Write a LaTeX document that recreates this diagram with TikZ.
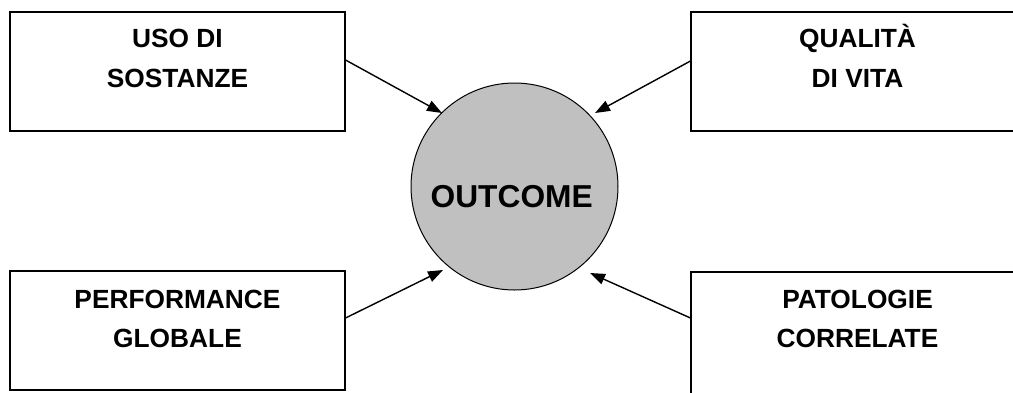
\documentclass[tikz,border=0pt]{standalone}
\usepackage{fontspec}
\setmainfont{Liberation Sans}
\usetikzlibrary{arrows.meta}
\begin{document}
\begin{tikzpicture}[x=1pt,y=-1pt,
  box/.style={draw=black,line width=1.1pt,rectangle,inner sep=0pt,minimum width=335pt,minimum height=119pt},
  lbl/.style={inner sep=0pt,anchor=base,font=\fontsize{26.3}{39}\selectfont\bfseries},
  hub/.style={draw=black,line width=1pt,circle,fill={rgb,255:red,192;green,192;blue,192},inner sep=0pt,minimum size=207pt},
  arr/.style={line width=1.4pt,-{Triangle[length=15pt,width=11pt]}}]
\useasboundingbox (0,0) rectangle (1013,392);
\node[hub] (c) at (514.5,186.5) {};
\node[inner sep=0pt,anchor=base,font=\fontsize{31.7}{38}\selectfont\bfseries] (ct) at (511.7,207) {OUTCOME};
\node[box] (tl) at (177.5,71.5) {};
\node[lbl] (tl1) at (177.5,47) {USO DI};
\node[lbl] (tl2) at (177.5,87) {SOSTANZE};
\node[box] (tr) at (858.5,71.5) {};
\node[lbl] (tr1) at (857.5,47) {QUALITÀ};
\node[lbl] (tr2) at (857.5,87) {DI VITA};
\node[box] (bl) at (177.5,330.5) {};
\node[lbl] (bl1) at (177.5,308) {PERFORMANCE};
\node[lbl] (bl2) at (177.5,347) {GLOBALE};
\node[box,minimum height=124pt] (br) at (858.5,334) {};
\node[lbl] (br1) at (857.5,308) {PATOLOGIE};
\node[lbl] (br2) at (857.5,347) {CORRELATE};
\coordinate (e1) at (442,113);
\coordinate (e2) at (595,113);
\coordinate (e3) at (443,270);
\coordinate (e4) at (590,273);
\draw[arr] ([yshift=11.5pt]tl.east) -- (e1);
\draw[arr] ([yshift=10.5pt]tr.west) -- (e2);
\draw[arr] ([yshift=12.5pt]bl.east) -- (e3);
\draw[arr] ([yshift=16pt]br.west) -- (e4);
\end{tikzpicture}
\end{document}
